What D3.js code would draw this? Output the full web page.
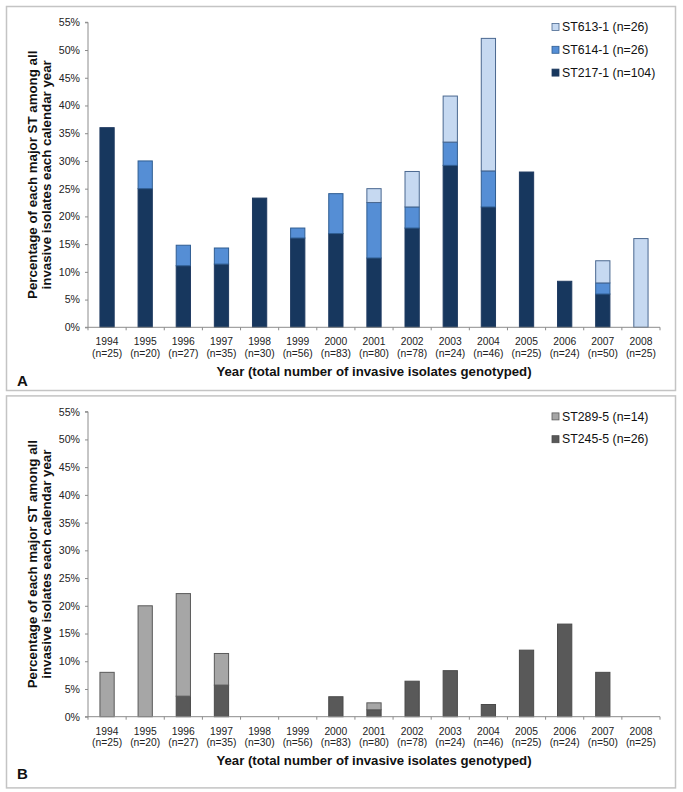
<!DOCTYPE html>
<html><head><meta charset="utf-8">
<script src="https://cdn.jsdelivr.net/npm/d3@7/dist/d3.min.js"></script>
<style>body{margin:0;background:#fff}svg{display:block}text{font-family:"Liberation Sans",Arial,sans-serif}</style>
</head><body><svg id="c" width="683" height="792"></svg>
<script>
// ---- data (percent of isolates per calendar year) ----
const years = ["1994","1995","1996","1997","1998","1999","2000","2001","2002","2003","2004","2005","2006","2007","2008"];
const nTotal = [25,20,27,35,30,56,83,80,78,24,46,25,24,50,25];
const st217 = [36.0,25.0,11.1,11.4,23.3,16.1,16.9,12.5,17.9,29.2,21.7,28.0,8.3,6.0,0];
const st614 = [0,5.0,3.7,2.9,0,1.8,7.2,10.0,3.8,4.2,6.5,0,0,2.0,0];
const st613 = [0,0,0,0,0,0,0,2.5,6.4,8.3,23.9,0,0,4.0,16.0];
const st245 = [0,0,3.7,5.7,0,0,3.6,1.25,6.4,8.3,2.2,12.0,16.7,8.0,0];
const st289 = [8.0,20.0,18.5,5.7,0,0,0,1.25,0,0,0,0,0,0,0];
const yTicks = [0,5,10,15,20,25,30,35,40,45,50,55];
const seriesA = [
  {key:"ST217-1", label:"ST217-1 (n=104)", values:st217, fill:"#17375e", stroke:"#1f3a60"},
  {key:"ST614-1", label:"ST614-1 (n=26)",  values:st614, fill:"#558ed5", stroke:"#2f5d92"},
  {key:"ST613-1", label:"ST613-1 (n=26)",  values:st613, fill:"#c6d9f1", stroke:"#4a6890"}
];
const seriesB = [
  {key:"ST245-5", label:"ST245-5 (n=26)", values:st245, fill:"#595959", stroke:"#4a4a4a"},
  {key:"ST289-5", label:"ST289-5 (n=14)", values:st289, fill:"#a6a6a6", stroke:"#5a5a5a"}
];
const yTitle1 = "Percentage of each major ST among all";
const yTitle2 = "invasive isolates each calendar year";
const xTitle = "Year (total number of invasive isolates genotyped)";

const svg = d3.select("#c");

function panel(top, series, letter, panelH){
  const g = svg.append("g").attr("transform",`translate(0,${top})`);
  g.append("rect").attr("x",6.5).attr("y",6.5).attr("width",669).attr("height",panelH)
    .attr("fill","#fff").attr("stroke","#c4c4c4").attr("stroke-width",1.5);
  const x0 = 88, x1 = 660, yTop = 22.3, yBot = 327.3;
  const x = d3.scaleBand().domain(years).range([x0,x1]).paddingInner(0.6).paddingOuter(0.3);
  const y = d3.scaleLinear().domain([0,55]).range([yBot,yTop]);

  // stacked data
  const rows = years.map((yr,i)=>{const o={year:yr}; series.forEach(s=>o[s.key]=s.values[i]); return o;});
  const stack = d3.stack().keys(series.map(s=>s.key))(rows);
  stack.forEach((layer,li)=>{
    const s = series[li];
    g.append("g").selectAll("rect").data(layer.filter(d=>d[1]-d[0]>0)).join("rect")
      .attr("x",d=>x(d.data.year)+0.5).attr("width",x.bandwidth()-1)
      .attr("y",d=>y(d[1])).attr("height",d=>y(d[0])-y(d[1]))
      .attr("fill",s.fill).attr("stroke",s.stroke).attr("stroke-width",1);
  });

  // y axis
  const ya = g.append("g").attr("transform",`translate(${x0},0)`)
    .call(d3.axisLeft(y).tickValues(yTicks).tickFormat(d=>d+"%").tickSize(3).tickPadding(5));
  ya.select(".domain").attr("stroke","#8c8c8c").attr("d",`M-3,${yTop}H0V${yBot}H-3`);
  ya.selectAll(".tick line").attr("stroke","#8c8c8c");
  ya.selectAll(".tick text").attr("font-size",10.6).attr("fill","#222").attr("font-family","Liberation Sans, Arial, sans-serif");

  // x axis
  g.append("line").attr("x1",x0).attr("x2",x1).attr("y1",yBot).attr("y2",yBot).attr("stroke","#8c8c8c");
  const step = x.step();
  const bounds = years.map(d=>x(d)+x.bandwidth()/2-step/2).concat([x1]);
  g.append("g").selectAll("line").data(bounds).join("line")
    .attr("x1",d=>d).attr("x2",d=>d).attr("y1",yBot).attr("y2",yBot+3).attr("stroke","#8c8c8c");
  const lab = g.append("g").selectAll("text").data(years).join("text")
    .attr("x",d=>x(d)+x.bandwidth()/2).attr("text-anchor","middle")
    .attr("font-size",10.3).attr("fill","#222");
  lab.append("tspan").attr("x",d=>x(d)+x.bandwidth()/2).attr("y",yBot+18).text(d=>d);
  lab.append("tspan").attr("x",d=>x(d)+x.bandwidth()/2).attr("y",yBot+29.5).text((d,i)=>`(n=${nTotal[i]})`);

  // titles
  g.append("text").attr("x",374).attr("y",yBot+48.5).attr("text-anchor","middle")
    .attr("font-size",13.2).attr("font-weight","bold").attr("fill","#111").text(xTitle);
  const cy = (yTop+yBot)/2;
  g.append("text").attr("transform",`translate(36.5,${cy}) rotate(-90)`).attr("text-anchor","middle")
    .attr("font-size",13.3).attr("font-weight","bold").attr("fill","#111").text(yTitle1);
  g.append("text").attr("transform",`translate(51,${cy}) rotate(-90)`).attr("text-anchor","middle")
    .attr("font-size",13.3).attr("font-weight","bold").attr("fill","#111").text(yTitle2);

  // legend (top-down reverse of stacking order)
  const leg = g.append("g");
  series.slice().reverse().forEach((s,i)=>{
    const cyL = 27 + i*22.8;
    leg.append("rect").attr("x",552).attr("y",cyL-3.5).attr("width",7).attr("height",7)
      .attr("fill",s.fill).attr("stroke",s.stroke).attr("stroke-width",0.8);
    leg.append("text").attr("x",562).attr("y",cyL+4.3).attr("font-size",12.3).attr("fill","#111").text(s.label);
  });

  g.append("text").attr("x",17).attr("y",letter.by).attr("font-size",15).attr("font-weight","bold")
    .attr("fill","#111").text(letter.t);
}
panel(0, seriesA, {t:"A", by:386}, 384);
panel(389.4, seriesB, {t:"B", by:390}, 392);
</script></body></html>
